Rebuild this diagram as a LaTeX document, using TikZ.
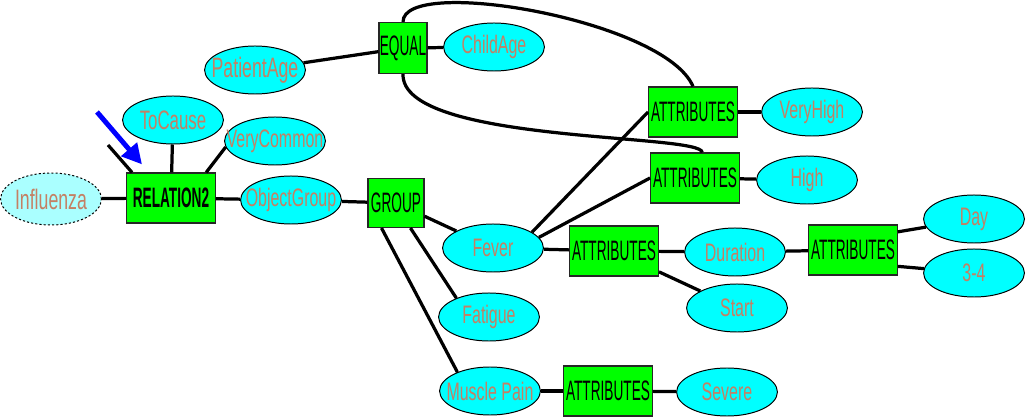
\documentclass[tikz,border=0pt]{standalone}
\usepackage{fontspec}
\setmainfont{Liberation Sans}[FakeStretch=0.63]
\newfontfamily\boxfont{Liberation Sans}[FakeStretch=0.485]
\usetikzlibrary{arrows.meta,shapes.geometric}
\definecolor{conceptfill}{RGB}{0,255,255}
\definecolor{topicfill}{RGB}{170,255,255}
\definecolor{relfill}{RGB}{0,255,0}
\definecolor{labeltext}{RGB}{196,128,100}

\begin{document}
\begin{tikzpicture}[x=0.025cm,y=-0.025cm,
  concept/.style={ellipse,draw,fill=conceptfill,line width=0.7pt,inner sep=0pt,
    minimum width=2.52cm,minimum height=1.2cm,text=labeltext,
    font=\fontsize{18}{21}\selectfont,
    execute at begin node={\hbox to 0pt\bgroup\hss},
    execute at end node={\hss\egroup}},
  topic/.style={concept,fill=topicfill,minimum height=1.3cm,
    dash pattern=on 1.5pt off 1.5pt},
  relbox/.style={draw=black!85,fill=relfill,line width=0.8pt,inner sep=0pt,
    minimum width=2.22cm,minimum height=1.25cm,
    font=\boxfont\fontsize{20}{23}\selectfont},
  link/.style={line width=2.3pt},
  pointer/.style={-{Triangle[length=5mm,width=5mm]},blue,line width=3.5pt}
]
\useasboundingbox (0,0) rectangle (1026,418);
% relation and its arguments
\node[topic,font=\fontsize{20}{23}\selectfont] (inf) at (51,199) {Influenza};
\node[relbox] (rel) at (171,198) {\textbf{RELATION2}};
\node[concept,font=\fontsize{19}{22}\selectfont] (toc) at (173,120) {ToCause};
\node[concept] (vc) at (275,141) {VeryCommon};
\node[concept] (og) at (291,200) {ObjectGroup};
\node[relbox,minimum width=1.4cm,minimum height=1.225cm] (grp) at (396,203) {GROUP};
% age condition
\node[concept,font=\fontsize{20}{23}\selectfont] (pa) at (255,70) {PatientAge};
\node[relbox,minimum width=1.2cm,minimum height=1.275cm] (eq) at (403,48) {EQUAL};
\node[concept] (ca) at (494,47) {ChildAge};
% symptoms
\node[concept] (fev) at (493,248) {Fever};
\node[concept] (fat) at (489,317) {Fatigue};
\node[concept] (mp) at (490,391) {Muscle Pain};
\node[relbox] (amp) at (608,391) {ATTRIBUTES};
\node[concept] (sev) at (727,392) {Severe};
\node[relbox] (afev) at (614,251) {ATTRIBUTES};
\node[concept] (dur) at (735,252) {Duration};
\node[concept] (st) at (737,308) {Start};
\node[relbox] (adur) at (853,250) {ATTRIBUTES};
\node[concept] (day) at (974,219) {Day};
\node[concept] (rng) at (974,273) {3-4};
\node[relbox] (avh) at (693,112) {ATTRIBUTES};
\node[concept] (vh) at (812,112) {VeryHigh};
\node[relbox] (ahi) at (695,178) {ATTRIBUTES};
\node[concept] (hi) at (807,180) {High};
\coordinate (lnk) at (108,145);
\coordinate (ptr) at (97,112);
% connectors
\draw[link] (inf) -- (rel);
\draw[link] (toc) -- (rel);
\draw[link] (rel.36) -- (vc.187);
\draw[link] (rel) -- (og);
\draw[link] (og) -- (grp);
\draw[link] (lnk) -- ([xshift=0.15cm]rel.north west);
\draw[link] (grp) -- (fev);
\draw[link] (grp.300) -- (fat.150);
\draw[link] (grp.240) -- (mp.150);
\draw[link] (mp) -- (amp);
\draw[link] (amp) -- (sev);
\draw[link] (fev) -- (afev);
\draw[link] (afev) -- (dur);
\draw[link] (afev) -- (st);
\draw[link] (dur) -- (adur);
\draw[link] (adur.22) -- (day);
\draw[link] (adur.-20) -- (rng);
\draw[link] (fev.22) -- (avh.west);
\draw[link] (fev.13) -- (ahi.west);
\draw[link] (avh) -- (vh);
\draw[link] (ahi) -- (hi);
\draw[link] (pa) -- (eq);
\draw[link] (eq) -- (ca);
\draw[link] (eq.north) .. controls (403,-25) and (665,20) .. (avh.north);
\draw[link] (eq.south) .. controls (401,144) and (702,133) .. ([xshift=0.18cm]ahi.north);
\draw[pointer] (ptr) -- ([shift={(16,-8)}]rel.north west);
\end{tikzpicture}
\end{document}
